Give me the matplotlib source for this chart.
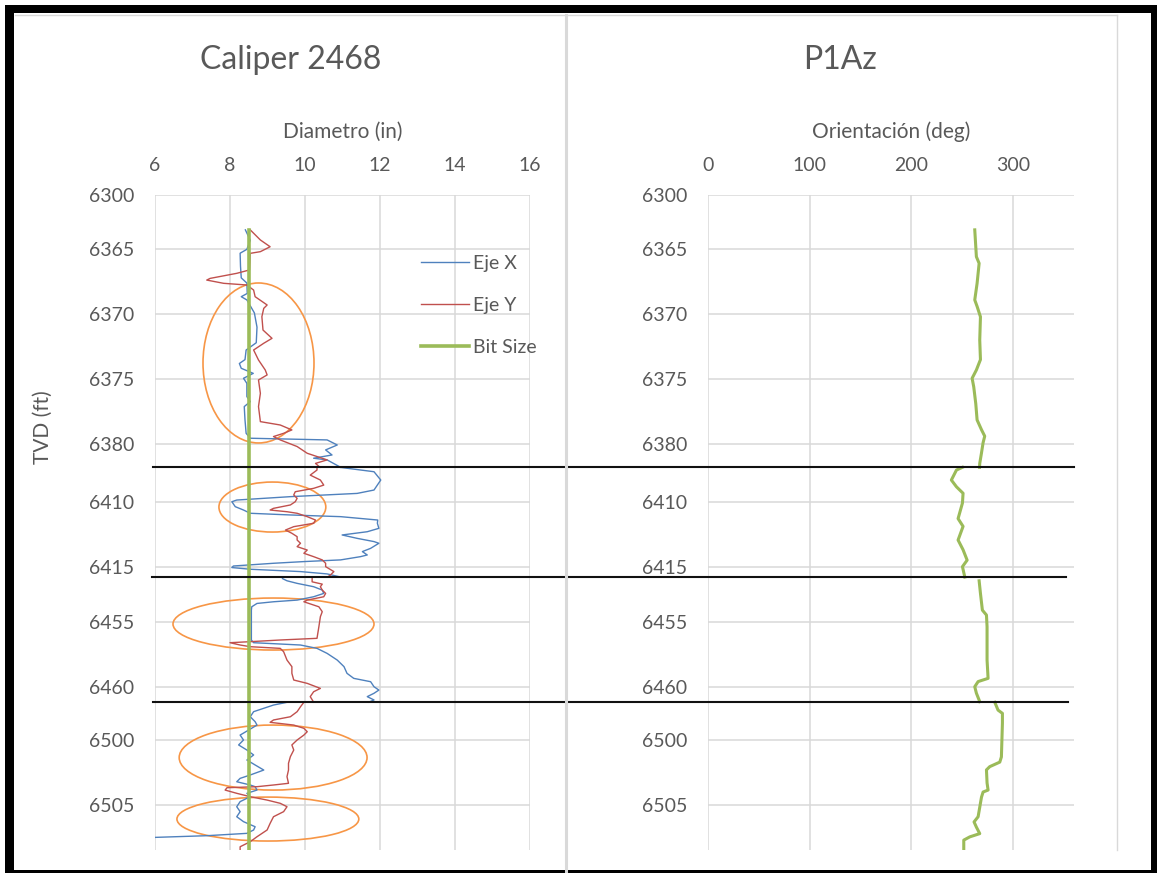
import numpy as np
import matplotlib
matplotlib.use("Agg")
import matplotlib.pyplot as plt
from matplotlib.patches import Ellipse, Rectangle
from matplotlib.lines import Line2D
from matplotlib.ticker import FixedLocator

plt.rcParams['font.family'] = ['Lato', 'DejaVu Sans']

# ---- data -------------------------------------------------------------
tvd_ticks = [6300, 6365, 6370, 6375, 6380, 6410, 6415, 6455, 6460, 6500, 6505]
diam_ticks = [6, 8, 10, 12, 14, 16]
orient_ticks = [0, 100, 200, 300]

# the log is a splice of four depth intervals
ejex_depth = [
    [6363.5, 6364.3, 6365.0, 6365.3, 6366.3, 6367.2, 6367.6, 6368.4, 6368.65, 6368.9,
     6369.9, 6371.0, 6372.2, 6372.76, 6373.5, 6373.8, 6374.17, 6374.56, 6374.94, 6375.33,
     6376.35, 6376.74, 6377.12, 6378.15, 6379.18, 6379.56, 6379.69, 6380.08, 6380.46,
     6380.85, 6381.1, 6381.23, 6381.8],
    [6407.36, 6407.69, 6408.33, 6409.1, 6409.36, 6409.61, 6409.87, 6410.0, 6410.38, 6410.64,
     6410.89, 6411.02, 6411.15, 6411.41, 6411.66, 6412.05, 6412.31, 6412.56, 6412.82,
     6413.07, 6413.2, 6413.59, 6413.84, 6414.1, 6414.23, 6414.48, 6414.61, 6414.74,
     6414.95, 6415.07, 6415.2, 6415.38, 6415.56, 6415.8],
    [6451.6, 6451.77, 6451.97, 6452.23, 6452.49, 6452.75, 6453.01, 6453.27, 6453.4, 6453.53,
     6453.79, 6454.05, 6456.37, 6456.58, 6456.76, 6457.02, 6457.41, 6457.93, 6458.44,
     6458.96, 6459.35, 6459.61, 6460.0, 6460.26, 6460.51, 6460.77, 6461.03, 6461.2],
    [6497.1, 6497.31, 6497.56, 6497.82, 6498.21, 6498.59, 6498.85, 6499.23, 6499.62, 6500.0,
     6500.38, 6500.77, 6501.15, 6501.54, 6501.92, 6502.31, 6502.69, 6502.95, 6503.21,
     6503.46, 6503.59, 6503.85, 6504.1, 6504.36, 6504.74, 6505.13, 6505.51, 6505.9,
     6506.28, 6506.67, 6506.92, 6507.18, 6507.36, 6507.49],
]
ejex_diam = [
    [8.41, 8.54, 8.45, 8.27, 8.28, 8.30, 8.45, 8.46, 8.30, 8.45,
     8.65, 8.72, 8.70, 8.43, 8.40, 8.25, 8.30, 8.62, 8.36, 8.45,
     8.45, 8.54, 8.38, 8.40, 8.43, 8.54, 10.59, 10.86, 10.55,
     10.72, 10.23, 10.59, 10.95],
    [10.95, 11.84, 12.02, 11.84, 11.39, 9.61, 8.18, 8.05, 8.14, 8.36,
     8.54, 9.61, 10.95, 11.94, 11.93, 11.97, 11.66, 10.99, 11.39,
     11.84, 11.97, 11.75, 11.53, 11.66, 11.48, 10.95, 9.97, 9.16,
     8.09, 8.05, 8.54, 9.88, 10.59, 10.95],
    [9.40, 9.52, 9.79, 10.23, 10.46, 10.50, 10.23, 9.79, 9.16, 8.72,
     8.58, 8.57, 8.57, 8.63, 9.88, 10.32, 10.59, 10.86, 11.04,
     11.12, 11.30, 11.75, 11.84, 11.97, 11.84, 11.66, 11.84, 11.70],
    [9.52, 9.16, 8.90, 8.63, 8.54, 8.67, 8.72, 8.50, 8.27, 8.36,
     8.23, 8.45, 8.63, 8.45, 8.67, 8.90, 8.54, 8.27, 8.18,
     8.54, 8.67, 8.72, 8.45, 8.54, 8.27, 8.18, 8.27, 8.18,
     8.36, 8.67, 8.63, 8.45, 7.38, 6.0],
]

ejey_depth = [
    [6363.5, 6364.28, 6364.8, 6365.18, 6365.31, 6366.59, 6366.85, 6367.24, 6367.37, 6367.62,
     6367.75, 6368.14, 6368.65, 6369.29, 6369.55, 6370.19, 6371.22, 6371.86, 6372.24,
     6372.76, 6373.53, 6374.3, 6374.68, 6375.07, 6376.1, 6377.12, 6378.28, 6378.54,
     6378.92, 6379.18, 6379.43, 6379.69, 6380.2, 6380.72, 6381.23, 6381.5, 6381.8],
    [6407.36, 6407.56, 6407.95, 6408.33, 6408.72, 6408.97, 6409.23, 6409.48, 6409.74, 6410.0,
     6410.25, 6410.51, 6410.64, 6410.77, 6410.89, 6411.15, 6411.41, 6411.66, 6411.92,
     6412.18, 6412.43, 6412.69, 6412.95, 6413.2, 6413.46, 6413.72, 6413.97, 6414.23,
     6414.48, 6414.74, 6415.0, 6415.38, 6415.64, 6415.8],
    [6451.6, 6451.85, 6452.03, 6452.23, 6452.49, 6452.75, 6453.01, 6453.27, 6453.4, 6453.79,
     6454.17, 6454.56, 6455.34, 6456.24, 6456.37, 6456.5, 6456.58, 6456.76, 6456.89,
     6457.02, 6457.28, 6457.93, 6458.44, 6458.96, 6459.48, 6459.74, 6460.13, 6460.39,
     6460.77, 6461.2],
    [6497.1, 6497.44, 6497.82, 6498.21, 6498.46, 6498.64, 6498.85, 6499.1, 6499.36, 6499.62,
     6500.0, 6500.38, 6500.77, 6501.28, 6501.79, 6502.31, 6502.82, 6503.33, 6503.46,
     6503.59, 6503.67, 6503.85, 6504.1, 6504.36, 6504.62, 6504.87, 6505.13, 6505.51,
     6505.9, 6506.41, 6506.92, 6507.44, 6507.82, 6508.21, 6508.46],
]
ejey_diam = [
    [8.54, 8.81, 9.07, 8.81, 8.54, 8.52, 8.18, 7.47, 7.38, 7.83,
     8.45, 8.63, 8.67, 8.99, 8.90, 8.85, 8.88, 9.12, 8.90,
     8.63, 8.76, 8.94, 8.99, 8.76, 8.81, 8.76, 8.81, 9.34,
     9.65, 9.43, 9.16, 9.34, 9.79, 10.06, 10.59, 10.28, 10.40],
    [10.32, 10.32, 10.14, 10.41, 10.50, 10.23, 9.74, 9.70, 9.79, 9.74,
     9.61, 9.16, 9.07, 9.52, 9.79, 10.06, 10.28, 10.23, 9.70,
     9.48, 9.65, 9.79, 9.79, 9.88, 9.79, 10.06, 9.97, 10.23,
     10.46, 10.55, 10.55, 10.77, 10.68, 10.60],
    [10.19, 10.19, 10.46, 10.41, 10.46, 10.55, 10.50, 10.06, 9.97, 10.37,
     10.46, 10.41, 10.37, 10.32, 9.34, 8.54, 8.00, 8.27, 8.54,
     9.34, 9.43, 9.52, 9.65, 9.65, 9.70, 10.06, 10.41, 10.23,
     10.14, 10.23],
    [9.97, 9.88, 9.79, 9.61, 9.16, 9.07, 9.70, 9.97, 10.06, 9.97,
     9.79, 9.65, 9.70, 9.61, 9.56, 9.56, 9.52, 9.56, 9.16,
     8.72, 7.92, 7.87, 8.18, 8.54, 8.99, 9.34, 9.52, 9.43,
     9.16, 9.07, 8.99, 8.72, 8.54, 8.27, 8.27],
]

bit_depth = [6363.5, 6508.46]
bit_size = [8.5, 8.5]

p1az_depth = [
    [6363.5, 6365.57, 6366.08, 6367.62, 6368.9, 6369.4, 6370.2, 6372.0, 6373.5, 6374.3,
     6374.94, 6375.6, 6376.9, 6378.15, 6378.9, 6379.4, 6379.9, 6380.7, 6381.5, 6381.8],
    [6407.35, 6407.56, 6408.33, 6408.85, 6409.35, 6410.1, 6411.3, 6411.9, 6412.95, 6413.7,
     6414.5, 6415.0, 6415.8],
    [6451.77, 6452.75, 6454.05, 6454.43, 6455.34, 6457.93, 6459.35, 6459.6, 6460.0, 6460.5,
     6461.16],
    [6497.1, 6497.7, 6497.95, 6498.7, 6501.3, 6501.7, 6502.05, 6502.3, 6503.3, 6503.85,
     6504.0, 6504.4, 6505.9, 6506.3, 6506.7, 6507.2, 6507.45, 6507.7, 6508.46],
]
p1az_deg = [
    [262.3, 263.9, 266.6, 264.6, 262.3, 264.6, 267.9, 267.2, 267.9, 263.9,
     259.7, 261.3, 263.3, 264.6, 268.9, 272.1, 270.5, 268.9, 267.2, 267.0],
    [250.2, 244.3, 239.3, 244.3, 250.8, 250.2, 245.9, 250.8, 245.9, 250.8,
     254.8, 250.2, 252.5],
    [266.6, 267.9, 269.8, 273.8, 274.4, 274.4, 275.4, 265.6, 262.3, 263.9,
     267.2],
    [282.0, 285.2, 289.5, 289.5, 288.5, 286.9, 277.0, 273.8, 274.4, 275.4,
     270.5, 268.9, 265.6, 261.6, 263.9, 267.2, 257.4, 251.5, 251.5],
]

# marked zones: (diameter centre, depth centre, width in, height ft)
zones = [(8.76, 6373.76, 2.96, 12.33), (9.13, 6410.41, 2.85, 3.85),
         (9.16, 6455.13, 5.36, 4.04), (9.15, 6501.35, 5.01, 5.0),
         (9.01, 6506.08, 4.85, 3.38)]

# ---- layout ---------------------------------------------------------------
W, H = 1157, 873
# spliced depth axis: depth -> vertical pixel position, a jump at each splice
splice_depth = [6300, 6362.0, 6381.8, 6407.35, 6415.82, 6451.5, 6461.21, 6497.1, 6508.46]
splice_pos = [195, 210.4, 467.3, 467.31, 577.3, 577.31, 702.3, 702.31, 850]


def fwd(d):
    return np.interp(d, splice_depth, splice_pos)


def inv(p):
    return np.interp(p, splice_pos, splice_depth)


GRAY = "#595959"
GRID = "#d9d9d9"
BLUE, RED, GREEN, ORANGE = "#4f81bd", "#c0504d", "#9bbb59", "#f79646"

fig = plt.figure(figsize=(W / 100, H / 100), dpi=100)


def px_box(x0, x1, y0, y1):
    return [x0 / W, 1 - y1 / H, (x1 - x0) / W, (y1 - y0) / H]


ax1 = fig.add_axes(px_box(155, 530, 195, 850))
ax2 = fig.add_axes(px_box(708, 708 + 360 * 1.017, 195, 850))

for ax in (ax1, ax2):
    ax.set_yscale("function", functions=(fwd, inv))
    ax.set_ylim(splice_depth[-1], splice_depth[0])
    ax.yaxis.set_major_locator(FixedLocator(tvd_ticks))
    ax.yaxis.set_minor_locator(FixedLocator([]))
    ax.xaxis.tick_top()
    ax.xaxis.set_label_position("top")
    ax.tick_params(length=0, labelsize=14, colors=GRAY)
    ax.tick_params(axis="x", pad=15)
    ax.tick_params(axis="y", pad=15)
    ax.grid(True, color=GRID, lw=1.1)
    ax.set_axisbelow(True)
    for s in ax.spines.values():
        s.set_visible(False)
    ax.set_facecolor("none")

# caliper track
ax1.set_xlim(6, 16)
ax1.set_xticks(diam_ticks)
for k, (d, v) in enumerate(zip(ejex_depth, ejex_diam)):
    ax1.plot(v, d, color=BLUE, lw=1.0, label="Eje X" if k == 0 else None)
for k, (d, v) in enumerate(zip(ejey_depth, ejey_diam)):
    ax1.plot(v, d, color=RED, lw=1.0, label="Eje Y" if k == 0 else None)
ax1.plot(bit_size, bit_depth, color=GREEN, lw=2.6, label="Bit Size")

for cx, cy, w, h in zones:
    ax1.add_patch(Ellipse((cx, cy), w, h, fill=False, ec=ORANGE, lw=1.2))

ax1.set_xlabel("Diametro (in)", fontsize=15, color=GRAY)
ax1.xaxis.set_label_coords(0.5, 1 + (195 - 132) / 655)
ax1.xaxis.label.set_va("center")

ax1.legend(loc="upper left", bbox_to_anchor=(0.709, 0.908), frameon=False,
           fontsize=14, handlelength=2.5, handletextpad=0.2, labelspacing=1.27,
           borderpad=0, borderaxespad=0, labelcolor=GRAY)

# orientation track
ax2.set_xlim(0, 360)
ax2.set_xticks(orient_ticks)
for d, v in zip(p1az_depth, p1az_deg):
    ax2.plot(v, d, color=GREEN, lw=2.2)
ax2.set_xlabel("Orientación (deg)", fontsize=15, color=GRAY)
ax2.xaxis.set_label_coords(0.5, 1 + (195 - 132) / 655)
ax2.xaxis.label.set_va("center")

# titles and depth label
fig.text(291 / W, 1 - 60 / H, "Caliper 2468", fontsize=23, color=GRAY,
         ha="center", va="center")
fig.text(840 / W, 1 - 60 / H, "P1Az", fontsize=23, color=GRAY,
         ha="center", va="center")
fig.text(43 / W, 1 - 427 / H, "TVD (ft)", fontsize=15, color=GRAY,
         rotation=90, ha="center", va="center")

# splice markers across both tracks
for y, x0, x1 in zip(splice_pos[2:7:2], (153, 152, 153), (1074, 1066, 1068)):
    fig.add_artist(Line2D([x0 / W, x1 / W], [1 - y / H, 1 - y / H],
                          transform=fig.transFigure, color="#111111", lw=1.5))

# chart area borders
for xs, ys, lw in [((15, 1117), (15, 15), 1.0), ((566, 566), (15, 873), 2.2),
                   ((1117, 1117), (15, 850), 1.0)]:
    fig.add_artist(Line2D([x / W for x in xs], [1 - y / H for y in ys],
                          transform=fig.transFigure, color=GRID, lw=lw))

# outer black frame
for x0, x1, y0, y1 in [(5, 14, 5, 873), (5, 1157, 5, 13), (1151, 1157, 5, 873),
                       (5, 1157, 870, 873)]:
    fig.add_artist(Rectangle((x0 / W, 1 - y1 / H), (x1 - x0) / W, (y1 - y0) / H,
                             transform=fig.transFigure, color="black", lw=0))

fig.savefig("out.png", dpi=100, facecolor="white")
